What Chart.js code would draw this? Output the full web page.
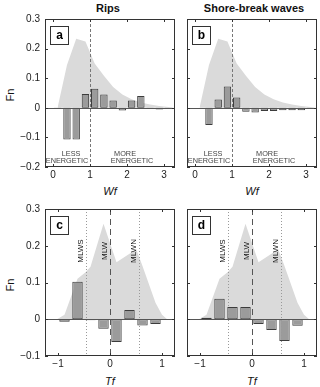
<!DOCTYPE html>
<html>
<head>
<meta charset="utf-8">
<script src="https://cdn.jsdelivr.net/npm/chart.js@4.4.1/dist/chart.umd.min.js"></script>
<style>
  body { margin: 0; background: #fff; font-family: "Liberation Sans", Arial, sans-serif; }
  #wrap { position: relative; width: 320px; height: 387px; overflow: hidden; }
  canvas { position: absolute; }
  .txt { position: absolute; transform: translate(-50%, -50%); white-space: nowrap; color: #111; }
  .head { font-weight: bold; font-size: 11px; }
  .ax { font-size: 11px; font-style: italic; }
  .fn { font-size: 11px; transform: translate(-50%, -50%) rotate(-90deg); }
</style>
</head>
<body>
<div id="wrap">
  <div class="txt head" style="left:108px;top:8px">Rips</div>
  <div class="txt head" style="left:254px;top:8px">Shore-break waves</div>
  <div class="txt fn" style="left:10px;top:95px">Fn</div>
  <div class="txt fn" style="left:10px;top:285px">Fn</div>
  <div class="txt ax" style="left:110px;top:191px">Wf</div>
  <div class="txt ax" style="left:252px;top:191px">Wf</div>
  <div class="txt ax" style="left:110px;top:381px">Tf</div>
  <div class="txt ax" style="left:252px;top:381px">Tf</div>
  <canvas id="chartA" width="180" height="190" style="left:0;top:0"></canvas>
  <canvas id="chartB" width="140" height="190" style="left:180px;top:0"></canvas>
  <canvas id="chartC" width="180" height="197" style="left:0;top:190px"></canvas>
  <canvas id="chartD" width="140" height="197" style="left:180px;top:190px"></canvas>
</div>
<script>
// wave factor bins (Wf)
const wfCenters = [0.125, 0.375, 0.625, 0.875, 1.125, 1.375, 1.625, 1.875, 2.125, 2.375, 2.625, 2.875, 3.125];
const ripsWf = [-0.002, -0.107, -0.107, 0.047, 0.064, 0.045, 0.025, -0.009, 0.025, 0.040, -0.004, -0.006, -0.002];
const shoreWf = [0, -0.058, 0.028, 0.072, 0.035, -0.013, -0.016, -0.011, -0.011, -0.008, -0.008, -0.008, -0.003];
const wfAreaX = [0.12, 0.375, 0.625, 0.875, 1.125, 1.375, 1.625, 1.875, 2.125, 2.375, 2.625, 2.875, 3.125, 3.3];
const wfAreaY = [0, 0.145, 0.233, 0.224, 0.15, 0.108, 0.07, 0.045, 0.029, 0.018, 0.011, 0.006, 0.003, 0];
const wfTicks = [0, 1, 2, 3];
const wfYTicks = [-0.2, -0.1, 0, 0.1, 0.2, 0.3];
const wfSplit = 1;

// tide factor bins (Tf)
const tfCenters = [-0.875, -0.625, -0.375, -0.125, 0.125, 0.375, 0.625, 0.875];
const ripsTf = [-0.007, 0.102, -0.003, -0.026, -0.062, 0.025, -0.017, -0.013];
const shoreTf = [0.004, 0.056, 0.033, 0.033, -0.013, -0.029, -0.059, -0.018];
const tfAreaX = [-1.02, -0.875, -0.625, -0.47, -0.375, -0.125, 0.125, 0.375, 0.5, 0.625, 0.875, 1.0, 1.1];
const tfAreaY = [0, 0.012, 0.11, 0.128, 0.143, 0.26, 0.155, 0.178, 0.192, 0.145, 0.045, 0.012, 0];
const tfTicks = [-1, 0, 1];
const tfYTicks = [-0.1, 0, 0.1, 0.2, 0.3];
const tideLevels = [-0.47, 0, 0.55];
const tideNames = ['MLWS', 'MLW', 'MLWN'];

const FONT = '"Liberation Sans", Arial, sans-serif';

function fmt(v) {
  if (v === 0) return '0';
  let s = Number.isInteger(v) ? String(v) : v.toFixed(1);
  return s.replace('-', '\u2212');
}

// frame, inner ticks, zero line, reference lines, panel letter
const decor = {
  id: 'decor',
  afterDatasetsDraw(chart, args, opts) {
    const ctx = chart.ctx;
    const a = chart.chartArea;
    const xs = chart.scales.x, ys = chart.scales.y;
    ctx.save();

    // zero line
    const y0 = Math.round(ys.getPixelForValue(0)) + 0.5;
    ctx.strokeStyle = '#555';
    ctx.lineWidth = 1;
    ctx.beginPath();
    ctx.moveTo(a.left, y0);
    ctx.lineTo(a.right, y0);
    ctx.stroke();

    // vertical reference lines
    (opts.lines || []).forEach(l => {
      const x = Math.round(xs.getPixelForValue(l.x)) + 0.5;
      ctx.strokeStyle = l.color;
      ctx.setLineDash(l.dash);
      ctx.beginPath();
      ctx.moveTo(x, a.top);
      ctx.lineTo(x, a.bottom);
      ctx.stroke();
      ctx.setLineDash([]);
      if (l.label) {
        ctx.save();
        ctx.translate(x - 6, a.top + 42);
        ctx.rotate(-Math.PI / 2);
        ctx.fillStyle = '#111';
        ctx.font = '8px ' + FONT;
        ctx.textAlign = 'center';
        ctx.textBaseline = 'middle';
        ctx.fillText(l.label, 0, 0);
        ctx.restore();
      }
    });

    // LESS / MORE ENERGETIC
    if (opts.energy) {
      const xs1 = xs.getPixelForValue(wfSplit);
      ctx.fillStyle = '#444';
      ctx.font = '7.3px ' + FONT;
      ctx.textAlign = 'center';
      ctx.textBaseline = 'middle';
      ctx.fillText('LESS', xs1 - 19, a.bottom - 13);
      ctx.fillText('ENERGETIC', xs1 - 23, a.bottom - 6);
      ctx.fillText('MORE', xs1 + 35, a.bottom - 13);
      ctx.fillText('ENERGETIC', xs1 + 42, a.bottom - 6);
    }

    // frame
    ctx.strokeStyle = '#333';
    ctx.strokeRect(a.left + 0.5, a.top + 0.5, a.right - a.left - 1, a.bottom - a.top - 1);

    // inward ticks
    ctx.beginPath();
    xs.ticks.forEach(t => {
      const x = Math.round(xs.getPixelForValue(t.value)) + 0.5;
      ctx.moveTo(x, a.bottom); ctx.lineTo(x, a.bottom - 3);
      ctx.moveTo(x, a.top); ctx.lineTo(x, a.top + 3);
    });
    ys.ticks.forEach(t => {
      const y = Math.round(ys.getPixelForValue(t.value)) + 0.5;
      ctx.moveTo(a.left, y); ctx.lineTo(a.left + 3, y);
      ctx.moveTo(a.right, y); ctx.lineTo(a.right - 3, y);
    });
    ctx.stroke();

    // panel letter
    const bx = a.left + 5.5, by = a.top + 7.5;
    ctx.fillStyle = '#fff';
    ctx.fillRect(bx, by, 18, 18);
    ctx.strokeStyle = '#333';
    ctx.strokeRect(bx, by, 18, 18);
    ctx.fillStyle = '#000';
    ctx.font = 'bold 12px ' + FONT;
    ctx.textAlign = 'center';
    ctx.textBaseline = 'middle';
    ctx.fillText(opts.letter, bx + 9, by + 9.5);
    ctx.restore();
  }
};

function makePanel(id, cfg) {
  const areaPts = cfg.areaX.map((x, i) => ({ x: x, y: cfg.areaY[i] }));
  const barPts = cfg.centers.map((x, i) => ({ x: x, y: cfg.values[i] }));
  return new Chart(document.getElementById(id), {
    type: 'bar',
    data: {
      datasets: [
        {
          type: 'line',
          data: areaPts,
          fill: 'origin',
          backgroundColor: '#dadada',
          borderWidth: 0,
          pointRadius: 0,
          tension: 0,
          order: 2
        },
        {
          type: 'bar',
          data: barPts,
          backgroundColor: '#9b9b9b',
          borderColor: '#3c3c3c',
          borderWidth: 1,
          borderSkipped: false,
          barPercentage: 0.8,
          categoryPercentage: 1,
          grouped: false,
          order: 1
        }
      ]
    },
    options: {
      responsive: false,
      animation: false,
      events: [],
      layout: { padding: cfg.padding },
      plugins: {
        legend: { display: false },
        tooltip: { enabled: false },
        decor: { letter: cfg.letter, lines: cfg.lines, energy: cfg.energy }
      },
      scales: {
        x: {
          type: 'linear',
          min: cfg.xMin,
          max: cfg.xMax,
          offset: false,
          grid: { display: false, drawTicks: false, offset: false },
          border: { display: false },
          afterBuildTicks: s => { s.ticks = cfg.xTicks.map(v => ({ value: v })); },
          afterFit: s => { s.height = 18; },
          ticks: {
            padding: 2,
            color: '#222',
            font: { family: FONT, size: 10 },
            maxRotation: 0,
            callback: v => fmt(v)
          }
        },
        y: {
          min: cfg.yMin,
          max: cfg.yMax,
          grid: { display: false, drawTicks: false },
          border: { display: false },
          afterBuildTicks: s => { s.ticks = cfg.yTicks.map(v => ({ value: v })); },
          afterFit: s => { s.width = cfg.yWidth; },
          ticks: {
            display: cfg.yLabels,
            padding: 5,
            color: '#222',
            font: { family: FONT, size: 10 },
            callback: v => fmt(v)
          }
        }
      }
    },
    plugins: [decor]
  });
}

const wfLines = [{ x: wfSplit, color: '#777', dash: [3, 2] }];
const tfLines = tideLevels.map((x, i) => ({
  x: x,
  color: x === 0 ? '#555' : '#999',
  dash: x === 0 ? [6, 4] : [1, 2],
  label: tideNames[i]
}));

makePanel('chartA', {
  letter: 'a', centers: wfCenters, values: ripsWf, areaX: wfAreaX, areaY: wfAreaY,
  xMin: -0.22, xMax: 3.3, xTicks: wfTicks, yMin: -0.2, yMax: 0.3, yTicks: wfYTicks,
  yWidth: 45, yLabels: true, padding: { top: 19, right: 5, bottom: 5, left: 0 },
  lines: wfLines, energy: true
});
makePanel('chartB', {
  letter: 'b', centers: wfCenters, values: shoreWf, areaX: wfAreaX, areaY: wfAreaY,
  xMin: -0.22, xMax: 3.3, xTicks: wfTicks, yMin: -0.2, yMax: 0.3, yTicks: wfYTicks,
  yWidth: 7, yLabels: false, padding: { top: 19, right: 3, bottom: 5, left: 0 },
  lines: wfLines, energy: true
});
makePanel('chartC', {
  letter: 'c', centers: tfCenters, values: ripsTf, areaX: tfAreaX, areaY: tfAreaY,
  xMin: -1.25, xMax: 1.25, xTicks: tfTicks, yMin: -0.1, yMax: 0.3, yTicks: tfYTicks,
  yWidth: 45, yLabels: true, padding: { top: 19, right: 5, bottom: 13, left: 0 },
  lines: tfLines, energy: false
});
makePanel('chartD', {
  letter: 'd', centers: tfCenters, values: shoreTf, areaX: tfAreaX, areaY: tfAreaY,
  xMin: -1.25, xMax: 1.25, xTicks: tfTicks, yMin: -0.1, yMax: 0.3, yTicks: tfYTicks,
  yWidth: 7, yLabels: false, padding: { top: 19, right: 3, bottom: 13, left: 0 },
  lines: tfLines, energy: false
});
</script>
</body>
</html>
